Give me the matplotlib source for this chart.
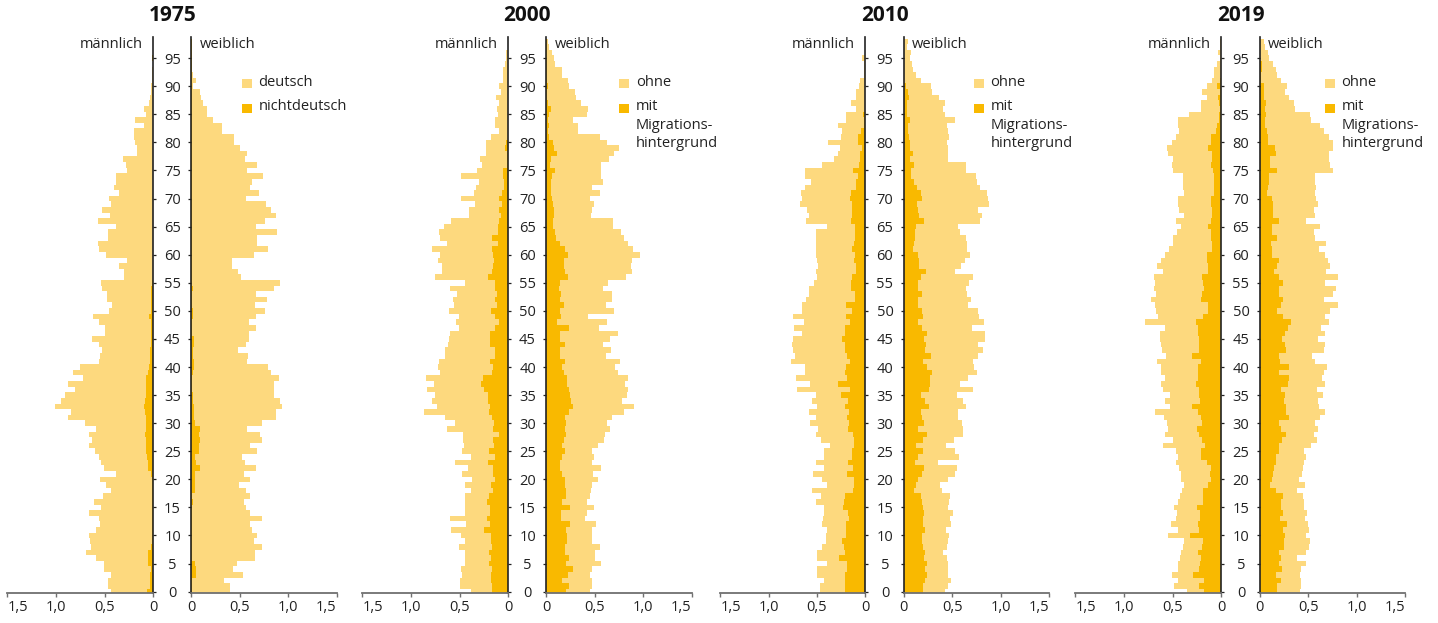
import matplotlib
matplotlib.use("Agg")
import matplotlib.pyplot as plt
from matplotlib.patches import Rectangle
import numpy as np

plt.rcParams['font.family'] = ['Open Sans', 'DejaVu Sans']

LIGHT = '#FDD97E'
DARK = '#F9B900'

ages = list(range(0, 99))
years = ['1975', '2000', '2010', '2019']
legend_labels = {
    '1975': ['deutsch', 'nichtdeutsch'],
    'other': ['ohne', 'mit', 'Migrations-', 'hintergrund'],
}
xtick_vals = [0, 0.5, 1.0, 1.5]
xtick_labels = ['0', '0,5', '1,0', '1,5']
ytick_vals = list(range(0, 96, 5))

# ---------- 1975 (total = deutsch + nichtdeutsch; dark = nichtdeutsch) ----------
m1975_total = [0.43, 0.47, 0.47, 0.43, 0.51, 0.51, 0.59, 0.69, 0.64, 0.65,
               0.66, 0.59, 0.55, 0.56, 0.66, 0.54, 0.61, 0.52, 0.43, 0.49,
               0.55, 0.38, 0.51, 0.54, 0.56, 0.60, 0.66, 0.63, 0.66, 0.59,
               0.70, 0.88, 0.85, 1.01, 0.95, 0.91, 0.80, 0.88, 0.72, 0.82,
               0.75, 0.56, 0.55, 0.53, 0.56, 0.63, 0.50, 0.50, 0.56, 0.62,
               0.46, 0.42, 0.48, 0.48, 0.53, 0.54, 0.30, 0.30, 0.35, 0.27,
               0.49, 0.56, 0.57, 0.47, 0.47, 0.38, 0.57, 0.45, 0.53, 0.43,
               0.46, 0.35, 0.40, 0.38, 0.38, 0.27, 0.28, 0.31, 0.165, 0.17,
               0.19, 0.20, 0.20, 0.10, 0.19, 0.075, 0.10, 0.045, 0.03, 0.02,
               0.02, 0.01, 0.01, 0.01, 0.005, 0.01, 0.005, 0.005, 0.0]
m1975_nd = [0.06, 0.03, 0.03, 0.03, 0.02, 0.055, 0.05, 0.055, 0.02, 0.015,
            0.015, 0.01, 0.015, 0.01, 0.01, 0.015, 0.01, 0.015, 0.01, 0.01,
            0.015, 0.02, 0.05, 0.05, 0.06, 0.08, 0.07, 0.08, 0.09, 0.08,
            0.08, 0.08, 0.09, 0.095, 0.09, 0.08, 0.075, 0.075, 0.07, 0.05,
            0.04, 0.03, 0.03, 0.03, 0.025, 0.02, 0.02, 0.02, 0.02, 0.045,
            0.02, 0.02, 0.02, 0.02, 0.025, 0.01, 0.005, 0.005, 0.005, 0.005,
            0.005, 0.005, 0.005, 0.005, 0.005, 0.005, 0.005, 0.005, 0.005, 0.005,
            0.005, 0.005, 0.005, 0.005, 0.005, 0.005, 0.005, 0.005, 0.005, 0.005,
            0.005, 0.005, 0.005, 0.005, 0.005, 0.005, 0.005, 0.005, 0.005, 0.005,
            0.005, 0.005, 0.005, 0.005, 0.005, 0.01, 0.005, 0.005, 0.0]
f1975_total = [0.40, 0.40, 0.34, 0.53, 0.43, 0.47, 0.66, 0.66, 0.73, 0.65,
               0.68, 0.63, 0.61, 0.73, 0.61, 0.56, 0.54, 0.61, 0.56, 0.49,
               0.61, 0.54, 0.67, 0.55, 0.52, 0.68, 0.61, 0.73, 0.71, 0.57,
               0.73, 0.87, 0.87, 0.94, 0.92, 0.85, 0.85, 0.85, 0.90, 0.82,
               0.79, 0.57, 0.58, 0.48, 0.56, 0.60, 0.60, 0.67, 0.60, 0.67,
               0.76, 0.66, 0.78, 0.67, 0.85, 0.91, 0.51, 0.48, 0.42, 0.42,
               0.65, 0.79, 0.68, 0.68, 0.88, 0.67, 0.76, 0.87, 0.82, 0.77,
               0.56, 0.70, 0.61, 0.63, 0.74, 0.57, 0.68, 0.55, 0.57, 0.50,
               0.44, 0.44, 0.32, 0.32, 0.22, 0.16, 0.16, 0.12, 0.10, 0.09,
               0.02, 0.05, 0.02, 0.01, 0.01, 0.005, 0.005, 0.005, 0.01]
f1975_nd = [0.01, 0.01, 0.01, 0.05, 0.05, 0.04, 0.01, 0.01, 0.01, 0.01,
            0.01, 0.01, 0.01, 0.01, 0.01, 0.01, 0.02, 0.01, 0.04, 0.04,
            0.04, 0.04, 0.09, 0.05, 0.04, 0.08, 0.08, 0.09, 0.08, 0.09,
            0.04, 0.03, 0.03, 0.03, 0.02, 0.02, 0.01, 0.01, 0.01, 0.02,
            0.03, 0.03, 0.02, 0.02, 0.03, 0.03, 0.01, 0.01, 0.01, 0.02,
            0.02, 0.01, 0.01, 0.01, 0.02, 0.005, 0.005, 0.005, 0.005, 0.005,
            0.005, 0.005, 0.005, 0.005, 0.005, 0.005, 0.005, 0.005, 0.005, 0.005,
            0.005, 0.005, 0.005, 0.005, 0.005, 0.005, 0.005, 0.005, 0.005, 0.005,
            0.005, 0.005, 0.005, 0.005, 0.005, 0.005, 0.005, 0.005, 0.005, 0.005,
            0.005, 0.005, 0.005, 0.005, 0.005, 0.005, 0.005, 0.005, 0.005]

# ---------- 2000 (total = ohne + mit; dark = mit Migrationshintergrund) ----------
m2000_total = [0.38, 0.50, 0.50, 0.48, 0.49, 0.45, 0.45, 0.45, 0.51, 0.45,
               0.49, 0.59, 0.43, 0.60, 0.45, 0.45, 0.45, 0.45, 0.38, 0.45,
               0.37, 0.48, 0.41, 0.55, 0.38, 0.48, 0.46, 0.47, 0.47, 0.63,
               0.55, 0.65, 0.87, 0.73, 0.78, 0.75, 0.84, 0.76, 0.85, 0.70,
               0.72, 0.71, 0.65, 0.65, 0.62, 0.61, 0.60, 0.51, 0.54, 0.51,
               0.61, 0.56, 0.57, 0.53, 0.60, 0.45, 0.75, 0.68, 0.68, 0.72,
               0.70, 0.78, 0.63, 0.70, 0.71, 0.66, 0.59, 0.40, 0.40, 0.34,
               0.49, 0.35, 0.33, 0.30, 0.49, 0.32, 0.27, 0.29, 0.23, 0.23,
               0.23, 0.18, 0.10, 0.14, 0.14, 0.11, 0.12, 0.10, 0.13, 0.08,
               0.10, 0.05, 0.05, 0.05, 0.03, 0.02, 0.02, 0.0, 0.0]
m2000_mig = [0.17, 0.17, 0.18, 0.18, 0.17, 0.20, 0.18, 0.20, 0.17, 0.18,
             0.18, 0.25, 0.19, 0.22, 0.19, 0.19, 0.22, 0.20, 0.16, 0.18,
             0.14, 0.16, 0.16, 0.21, 0.14, 0.20, 0.15, 0.16, 0.10, 0.16,
             0.15, 0.17, 0.20, 0.19, 0.21, 0.21, 0.25, 0.28, 0.26, 0.17,
             0.16, 0.19, 0.14, 0.14, 0.19, 0.19, 0.19, 0.14, 0.10, 0.14,
             0.18, 0.12, 0.14, 0.12, 0.14, 0.14, 0.21, 0.17, 0.16, 0.15,
             0.16, 0.17, 0.11, 0.17, 0.11, 0.11, 0.10, 0.08, 0.10, 0.06,
             0.10, 0.06, 0.04, 0.04, 0.05, 0.05, 0.01, 0.01, 0.01, 0.03,
             0.02, 0.005, 0.005, 0.005, 0.005, 0.005, 0.005, 0.005, 0.005, 0.005,
             0.005, 0.005, 0.005, 0.005, 0.005, 0.005, 0.005, 0.0, 0.0]
f2000_total = [0.45, 0.47, 0.47, 0.45, 0.47, 0.56, 0.50, 0.50, 0.55, 0.47,
               0.47, 0.47, 0.51, 0.40, 0.42, 0.49, 0.42, 0.45, 0.46, 0.47,
               0.53, 0.48, 0.56, 0.47, 0.49, 0.47, 0.53, 0.60, 0.61, 0.66,
               0.63, 0.68, 0.80, 0.90, 0.78, 0.83, 0.84, 0.81, 0.84, 0.74,
               0.71, 0.76, 0.62, 0.67, 0.58, 0.66, 0.74, 0.54, 0.63, 0.43,
               0.70, 0.62, 0.68, 0.68, 0.59, 0.64, 0.82, 0.88, 0.87, 0.88,
               0.97, 0.89, 0.84, 0.80, 0.77, 0.69, 0.69, 0.46, 0.47, 0.49,
               0.45, 0.55, 0.47, 0.59, 0.56, 0.56, 0.56, 0.65, 0.70, 0.75,
               0.63, 0.55, 0.33, 0.33, 0.28, 0.42, 0.43, 0.36, 0.31, 0.30,
               0.23, 0.22, 0.16, 0.165, 0.09, 0.075, 0.055, 0.03, 0.02]
f2000_mig = [0.20, 0.23, 0.16, 0.22, 0.28, 0.20, 0.23, 0.19, 0.19, 0.21,
             0.21, 0.20, 0.24, 0.15, 0.15, 0.24, 0.16, 0.20, 0.20, 0.19,
             0.19, 0.16, 0.14, 0.14, 0.16, 0.19, 0.16, 0.18, 0.20, 0.19,
             0.20, 0.19, 0.23, 0.28, 0.25, 0.24, 0.23, 0.21, 0.21, 0.18,
             0.16, 0.19, 0.14, 0.14, 0.19, 0.14, 0.14, 0.23, 0.11, 0.15,
             0.14, 0.18, 0.14, 0.15, 0.13, 0.14, 0.22, 0.19, 0.18, 0.18,
             0.22, 0.19, 0.14, 0.10, 0.09, 0.065, 0.07, 0.08, 0.075, 0.07,
             0.06, 0.05, 0.045, 0.05, 0.055, 0.09, 0.04, 0.05, 0.11, 0.075,
             0.07, 0.03, 0.02, 0.03, 0.02, 0.03, 0.045, 0.02, 0.01, 0.01,
             0.02, 0.005, 0.005, 0.005, 0.005, 0.005, 0.005, 0.005, 0.005]

# ---------- 2010 ----------
m2010_total = [0.47, 0.47, 0.43, 0.50, 0.50, 0.40, 0.50, 0.50, 0.45, 0.41,
               0.41, 0.40, 0.45, 0.44, 0.43, 0.43, 0.51, 0.46, 0.55, 0.40,
               0.45, 0.54, 0.43, 0.51, 0.43, 0.43, 0.37, 0.46, 0.51, 0.49,
               0.57, 0.51, 0.58, 0.50, 0.55, 0.51, 0.71, 0.57, 0.72, 0.62,
               0.62, 0.77, 0.73, 0.75, 0.76, 0.75, 0.65, 0.74, 0.63, 0.75,
               0.65, 0.66, 0.61, 0.58, 0.58, 0.53, 0.50, 0.51, 0.49, 0.50,
               0.51, 0.51, 0.51, 0.51, 0.51, 0.40, 0.61, 0.58, 0.60, 0.68,
               0.66, 0.67, 0.62, 0.56, 0.62, 0.62, 0.45, 0.32, 0.28, 0.26,
               0.39, 0.25, 0.24, 0.28, 0.20, 0.20, 0.10, 0.15, 0.10, 0.10,
               0.07, 0.06, 0.01, 0.01, 0.01, 0.03, 0.0, 0.0, 0.0]
m2010_mig = [0.21, 0.21, 0.21, 0.21, 0.19, 0.19, 0.27, 0.21, 0.22, 0.24,
             0.20, 0.20, 0.20, 0.17, 0.18, 0.23, 0.22, 0.21, 0.13, 0.12,
             0.12, 0.19, 0.13, 0.18, 0.14, 0.14, 0.12, 0.12, 0.13, 0.18,
             0.17, 0.19, 0.17, 0.21, 0.18, 0.25, 0.16, 0.28, 0.19, 0.21,
             0.20, 0.16, 0.19, 0.21, 0.21, 0.24, 0.21, 0.21, 0.16, 0.20,
             0.14, 0.20, 0.11, 0.11, 0.15, 0.15, 0.14, 0.10, 0.10, 0.12,
             0.11, 0.14, 0.12, 0.11, 0.11, 0.11, 0.15, 0.14, 0.14, 0.14,
             0.16, 0.15, 0.10, 0.10, 0.075, 0.13, 0.07, 0.05, 0.05, 0.03,
             0.075, 0.075, 0.04, 0.01, 0.01, 0.02, 0.005, 0.005, 0.005, 0.005,
             0.005, 0.005, 0.005, 0.005, 0.005, 0.005, 0.0, 0.0, 0.0]
f2010_total = [0.43, 0.46, 0.49, 0.46, 0.46, 0.46, 0.45, 0.40, 0.45, 0.46,
               0.47, 0.44, 0.49, 0.48, 0.51, 0.46, 0.47, 0.48, 0.39, 0.37,
               0.46, 0.53, 0.55, 0.35, 0.57, 0.53, 0.44, 0.52, 0.61, 0.61,
               0.60, 0.56, 0.56, 0.64, 0.61, 0.55, 0.71, 0.58, 0.66, 0.76,
               0.72, 0.71, 0.77, 0.82, 0.77, 0.84, 0.84, 0.70, 0.83, 0.78,
               0.77, 0.66, 0.69, 0.65, 0.64, 0.67, 0.71, 0.53, 0.59, 0.63,
               0.68, 0.65, 0.65, 0.64, 0.58, 0.56, 0.79, 0.81, 0.77, 0.88,
               0.87, 0.86, 0.79, 0.75, 0.74, 0.64, 0.64, 0.46, 0.46, 0.46,
               0.45, 0.47, 0.46, 0.45, 0.53, 0.43, 0.40, 0.43, 0.36, 0.29,
               0.28, 0.18, 0.13, 0.10, 0.085, 0.07, 0.075, 0.03, 0.045]
f2010_mig = [0.20, 0.20, 0.22, 0.24, 0.22, 0.24, 0.21, 0.22, 0.20, 0.19,
             0.19, 0.22, 0.20, 0.20, 0.21, 0.20, 0.19, 0.18, 0.11, 0.13,
             0.15, 0.19, 0.21, 0.12, 0.15, 0.20, 0.13, 0.20, 0.24, 0.15,
             0.21, 0.19, 0.18, 0.26, 0.22, 0.18, 0.26, 0.27, 0.27, 0.29,
             0.24, 0.20, 0.28, 0.22, 0.23, 0.21, 0.24, 0.19, 0.15, 0.20,
             0.19, 0.15, 0.15, 0.19, 0.15, 0.15, 0.18, 0.23, 0.16, 0.16,
             0.15, 0.10, 0.11, 0.12, 0.12, 0.13, 0.21, 0.16, 0.15, 0.14,
             0.19, 0.18, 0.14, 0.11, 0.08, 0.08, 0.11, 0.07, 0.10, 0.065,
             0.07, 0.05, 0.04, 0.04, 0.065, 0.035, 0.03, 0.035, 0.05, 0.04,
             0.025, 0.005, 0.005, 0.005, 0.005, 0.005, 0.005, 0.005, 0.005]

# ---------- 2019 ----------
m2019_total = [0.35, 0.49, 0.45, 0.51, 0.44, 0.45, 0.42, 0.41, 0.39, 0.38,
               0.55, 0.45, 0.52, 0.47, 0.46, 0.49, 0.45, 0.42, 0.40, 0.38,
               0.41, 0.41, 0.43, 0.47, 0.45, 0.47, 0.60, 0.50, 0.58, 0.55,
               0.56, 0.59, 0.68, 0.53, 0.58, 0.53, 0.60, 0.62, 0.58, 0.62,
               0.62, 0.66, 0.57, 0.61, 0.62, 0.63, 0.63, 0.58, 0.78, 0.65,
               0.67, 0.68, 0.72, 0.67, 0.69, 0.68, 0.69, 0.60, 0.66, 0.62,
               0.58, 0.54, 0.50, 0.50, 0.46, 0.41, 0.47, 0.38, 0.43, 0.45,
               0.45, 0.38, 0.39, 0.39, 0.39, 0.50, 0.51, 0.50, 0.55, 0.56,
               0.51, 0.47, 0.43, 0.45, 0.45, 0.33, 0.21, 0.21, 0.15, 0.20,
               0.15, 0.10, 0.08, 0.07, 0.04, 0.015, 0.035, 0.015, 0.015]
m2019_mig = [0.18, 0.23, 0.18, 0.29, 0.23, 0.22, 0.21, 0.24, 0.20, 0.19,
             0.32, 0.23, 0.24, 0.22, 0.22, 0.25, 0.19, 0.19, 0.19, 0.14,
             0.11, 0.12, 0.11, 0.15, 0.21, 0.21, 0.17, 0.20, 0.23, 0.25,
             0.20, 0.21, 0.24, 0.30, 0.22, 0.23, 0.23, 0.26, 0.24, 0.24,
             0.24, 0.21, 0.30, 0.23, 0.23, 0.23, 0.24, 0.24, 0.26, 0.19,
             0.14, 0.14, 0.21, 0.20, 0.18, 0.19, 0.20, 0.14, 0.14, 0.15,
             0.15, 0.10, 0.10, 0.11, 0.11, 0.14, 0.11, 0.10, 0.10, 0.11,
             0.11, 0.075, 0.075, 0.075, 0.07, 0.085, 0.11, 0.10, 0.10, 0.14,
             0.11, 0.11, 0.05, 0.045, 0.02, 0.02, 0.01, 0.02, 0.035, 0.01,
             0.04, 0.01, 0.005, 0.005, 0.005, 0.005, 0.005, 0.005, 0.005]
f2019_total = [0.42, 0.43, 0.43, 0.42, 0.43, 0.48, 0.38, 0.48, 0.51, 0.52,
               0.48, 0.51, 0.50, 0.47, 0.49, 0.46, 0.46, 0.45, 0.38, 0.47,
               0.40, 0.44, 0.45, 0.46, 0.48, 0.46, 0.53, 0.59, 0.56, 0.60,
               0.57, 0.62, 0.67, 0.61, 0.60, 0.65, 0.59, 0.67, 0.64, 0.66,
               0.69, 0.57, 0.54, 0.66, 0.67, 0.60, 0.67, 0.63, 0.71, 0.67,
               0.72, 0.81, 0.66, 0.75, 0.79, 0.67, 0.81, 0.68, 0.72, 0.70,
               0.67, 0.61, 0.68, 0.57, 0.56, 0.62, 0.48, 0.57, 0.56, 0.60,
               0.58, 0.57, 0.58, 0.57, 0.57, 0.75, 0.72, 0.71, 0.71, 0.76,
               0.76, 0.71, 0.66, 0.62, 0.53, 0.52, 0.36, 0.35, 0.30, 0.26,
               0.28, 0.22, 0.18, 0.17, 0.14, 0.10, 0.09, 0.05, 0.04]
f2019_mig = [0.18, 0.18, 0.22, 0.17, 0.23, 0.20, 0.22, 0.20, 0.25, 0.25,
             0.26, 0.24, 0.28, 0.21, 0.24, 0.22, 0.22, 0.24, 0.17, 0.11,
             0.13, 0.14, 0.15, 0.17, 0.17, 0.20, 0.20, 0.23, 0.27, 0.22,
             0.20, 0.30, 0.27, 0.27, 0.25, 0.26, 0.22, 0.29, 0.30, 0.20,
             0.30, 0.21, 0.20, 0.27, 0.26, 0.23, 0.26, 0.29, 0.32, 0.24,
             0.18, 0.22, 0.24, 0.20, 0.20, 0.24, 0.20, 0.15, 0.18, 0.20,
             0.13, 0.13, 0.12, 0.18, 0.13, 0.13, 0.20, 0.14, 0.14, 0.14,
             0.13, 0.08, 0.085, 0.10, 0.10, 0.18, 0.11, 0.11, 0.17, 0.155,
             0.09, 0.085, 0.08, 0.05, 0.05, 0.065, 0.05, 0.065, 0.04, 0.045,
             0.045, 0.01, 0.01, 0.02, 0.02, 0.005, 0.005, 0.005, 0.005]

panels = {
    '1975': (m1975_total, m1975_nd, f1975_total, f1975_nd),
    '2000': (m2000_total, m2000_mig, f2000_total, f2000_mig),
    '2010': (m2010_total, m2010_mig, f2010_total, f2010_mig),
    '2019': (m2019_total, m2019_mig, f2019_total, f2019_mig),
}

# ---------- layout (pixel geometry of the reference) ----------
W, H = 1438, 623
AX_BOTTOM_PX, AX_TOP_PX = 593.3, 37.4
left_px = [(7.3, 153.3), (362.3, 508.3), (720.3, 865.3), (1075.3, 1221.3)]
right_px = [(191.3, 336.7), (546.3, 691.7), (903.7, 1049.3), (1259.7, 1405.3)]
swatch_x = [242.3, 619.3, 974.3, 1325.3]
legtext_x = [258.3, 636.0, 990.5, 1341.5]

fig = plt.figure(figsize=(W / 100, H / 100), dpi=100)


def rect(x0, x1):
    return [x0 / W, (H - AX_BOTTOM_PX) / H, (x1 - x0) / W,
            (AX_BOTTOM_PX - AX_TOP_PX) / H]


def fx(x):
    return x / W


def fy(y):
    return (H - y) / H


SPINE_COL = '#222222'
AXIS_COL = '#707070'
TXT_COL = '#222222'
FS = 10.5

for i, yr in enumerate(years):
    m_tot, m_dark, f_tot, f_dark = panels[yr]
    axL = fig.add_axes(rect(*left_px[i]))
    axR = fig.add_axes(rect(*right_px[i]))

    axL.barh(ages, m_tot, height=1.0, color=LIGHT, linewidth=0)
    axL.barh(ages, m_dark, height=1.0, color=DARK, linewidth=0)
    axR.barh(ages, f_tot, height=1.0, color=LIGHT, linewidth=0)
    axR.barh(ages, f_dark, height=1.0, color=DARK, linewidth=0)

    for ax in (axL, axR):
        ax.set_ylim(-0.3, 98.7)
        ax.set_facecolor('none')
        ax.set_xticks(xtick_vals)
        ax.set_xticklabels(xtick_labels)
        ax.tick_params(axis='x', direction='out', length=3, width=1.0,
                       color=AXIS_COL, labelsize=FS, labelcolor=TXT_COL, pad=1.5)
        ax.spines['top'].set_visible(False)
        ax.spines['bottom'].set_color(AXIS_COL)
        ax.spines['bottom'].set_linewidth(1.3)
        ax.set_yticks(ytick_vals)

    axL.set_xlim(1.5, 0)
    axR.set_xlim(0, 1.5)

    axL.spines['left'].set_visible(False)
    axL.spines['right'].set_color(SPINE_COL)
    axL.spines['right'].set_linewidth(1.2)
    axL.yaxis.tick_right()
    axL.tick_params(axis='y', direction='out', length=2.5, width=0.9,
                    color=SPINE_COL, labelright=False, labelleft=False)

    axR.spines['right'].set_visible(False)
    axR.spines['left'].set_color(SPINE_COL)
    axR.spines['left'].set_linewidth(1.2)
    axR.tick_params(axis='y', direction='out', length=2.5, width=0.9,
                    color=SPINE_COL, labelsize=FS, labelcolor=TXT_COL, pad=11.0)
    axR.set_yticklabels([str(v) for v in ytick_vals])
    for lab in axR.get_yticklabels():
        lab.set_horizontalalignment('center')

    # outermost x tick labels kept inside the axes
    labsL = axL.get_xticklabels()
    labsL[-1].set_horizontalalignment('left')
    labsR = axR.get_xticklabels()
    labsR[-1].set_horizontalalignment('right')

    # title
    cx = (left_px[i][1] + right_px[i][0]) / 2
    fig.text(fx(cx), fy(15.5), yr, ha='center', va='center',
             fontsize=15, fontweight='bold', color='#111111')

    # side labels
    fig.text(fx(left_px[i][1] - 11), fy(44), 'männlich', ha='right',
             va='center', fontsize=FS, color=TXT_COL)
    fig.text(fx(right_px[i][0] + 8.5), fy(44), 'weiblich', ha='left',
             va='center', fontsize=FS, color=TXT_COL)

    # legend
    sw = 9.4
    for (ytop, col) in ((79.0, LIGHT), (103.7, DARK)):
        fig.add_artist(Rectangle((fx(swatch_x[i]), fy(ytop + sw)),
                                 sw / W, sw / H, transform=fig.transFigure,
                                 facecolor=col, edgecolor='none'))
    if yr == '1975':
        lines = [(82.5, legend_labels['1975'][0]),
                 (107.0, legend_labels['1975'][1])]
    else:
        lab = legend_labels['other']
        lines = [(82.5, lab[0]), (107.0, lab[1]), (125.5, lab[2]),
                 (144.0, lab[3])]
    for (yc, t) in lines:
        fig.text(fx(legtext_x[i]), fy(yc), t, ha='left', va='center',
                 fontsize=FS, color=TXT_COL)

fig.savefig('out.png', dpi=100, facecolor='white')
